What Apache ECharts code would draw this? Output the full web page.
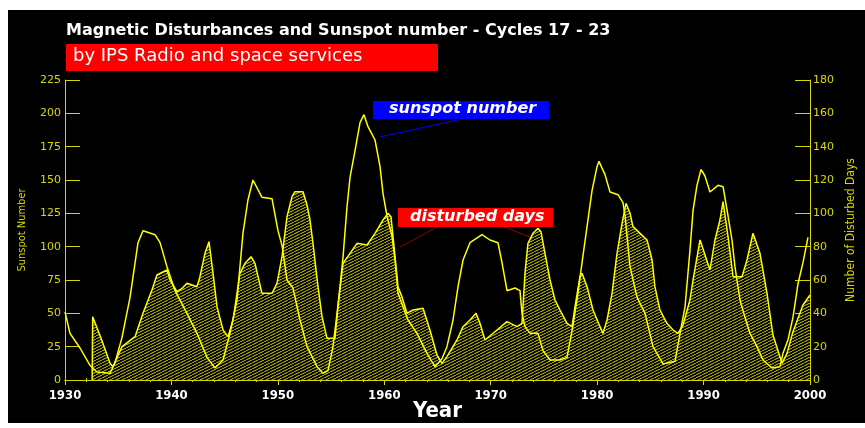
<!DOCTYPE html>
<html>
<head>
<meta charset="utf-8">
<script src="https://cdn.jsdelivr.net/npm/echarts@6/dist/echarts.min.js"></script>
<style>
  html, body { margin: 0; padding: 0; background: #fff; }
  #main { width: 865px; height: 428px; }
</style>
</head>
<body>
<div id="main"></div>
<script>
// sunspot number (left axis)
const ssnYears = [1930.0, 1930.47, 1931.41, 1932.35, 1933.0, 1934.23, 1934.7, 1935.36, 1936.11, 1936.86,
  1937.33, 1938.46, 1938.93, 1939.58, 1940.34, 1941.46, 1942.4, 1943.34, 1944.09, 1944.85,
  1945.5, 1946.16, 1946.72, 1947.19, 1947.66, 1948.51, 1949.45, 1950.01, 1950.39, 1950.86,
  1951.42, 1952.08, 1952.74, 1953.68, 1954.24, 1954.71, 1955.18, 1955.56, 1955.84, 1956.12,
  1956.5, 1956.78, 1957.25, 1957.72, 1958.09, 1958.47, 1959.13, 1959.6, 1959.88, 1960.25,
  1960.72, 1961.01, 1961.29, 1961.76, 1962.23, 1963.07, 1964.01, 1964.76, 1965.42, 1965.89,
  1966.46, 1966.93, 1967.4, 1968.05, 1969.18, 1969.93, 1970.68, 1971.06, 1971.53, 1972.28,
  1972.75, 1972.94, 1973.22, 1973.69, 1974.44, 1974.91, 1975.57, 1976.51, 1977.17, 1977.64,
  1978.11, 1978.58, 1979.05, 1979.52, 1979.99, 1980.17, 1980.74, 1981.21, 1981.96, 1982.43,
  1982.62, 1983.09, 1983.75, 1984.5, 1985.25, 1986.19, 1987.32, 1987.79, 1988.26, 1988.72,
  1989.01, 1989.38, 1989.76, 1990.13, 1990.6, 1991.36, 1991.83, 1992.3, 1992.67, 1992.95,
  1993.42, 1993.89, 1994.36, 1995.02, 1995.58, 1996.43, 1997.18, 1997.46, 1997.93, 1998.4,
  1998.87, 1999.34, 1999.81]
const ssnValues = [51, 35, 24, 11, 6, 5, 13, 32, 62, 103,
  112, 109, 103, 85, 67, 50, 35, 17, 9, 15,
  35, 60, 110, 135, 150, 137, 136, 112, 101, 75,
  69, 45, 25, 10, 5, 7, 25, 50, 70, 92,
  130, 152, 172, 193, 199, 190, 180, 160, 140, 123,
  108, 90, 65, 55, 45, 35, 20, 10, 16, 25,
  45, 70, 90, 103, 109, 105, 103, 88, 67, 69,
  67, 50, 40, 35, 35, 22, 15, 15, 17, 37,
  60, 88, 115, 142, 160, 164, 154, 141, 139, 133,
  123, 85, 62, 50, 25, 12, 14, 35, 55, 97,
  127, 146, 158, 153, 141, 146, 145, 123, 105, 85,
  60, 47, 35, 25, 15, 9, 10, 20, 30, 47,
  72, 88, 107]

// number of disturbed days (right axis)
const ddYears = [1932.55, 1932.6, 1933.45, 1934.23, 1934.51, 1935.36, 1936.58, 1937.33, 1938.17, 1938.64,
  1939.58, 1939.87, 1940.52, 1941.0, 1941.46, 1942.4, 1942.68, 1943.15, 1943.53, 1943.91,
  1944.28, 1944.85, 1945.32, 1945.79, 1946.16, 1946.44, 1946.91, 1947.48, 1947.85, 1948.51,
  1949.45, 1949.92, 1950.39, 1950.86, 1951.33, 1951.61, 1952.36, 1952.74, 1953.02, 1953.3,
  1953.77, 1954.15, 1954.62, 1955.37, 1955.65, 1956.12, 1956.78, 1957.44, 1958.38, 1959.13,
  1959.88, 1960.35, 1960.63, 1961.01, 1961.29, 1961.66, 1962.13, 1962.7, 1963.64, 1964.29,
  1964.95, 1965.42, 1965.89, 1966.83, 1967.4, 1968.05, 1968.62, 1968.99, 1969.46, 1970.59,
  1971.53, 1972.47, 1972.94, 1973.22, 1973.5, 1973.97, 1974.44, 1974.72, 1975.1, 1975.57,
  1976.04, 1976.51, 1977.17, 1977.64, 1977.92, 1978.39, 1978.58, 1979.05, 1979.61, 1980.27,
  1980.55, 1980.93, 1981.4, 1981.87, 1982.34, 1982.71, 1983.09, 1983.37, 1984.03, 1984.69,
  1985.16, 1985.43, 1985.9, 1986.56, 1987.13, 1987.6, 1988.07, 1988.72, 1989.01, 1989.67,
  1990.6, 1991.07, 1991.54, 1991.83, 1992.3, 1992.77, 1993.61, 1994.08, 1994.64, 1995.3,
  1995.96, 1996.52, 1997.37, 1997.84, 1998.4, 1999.34, 2000.0]
const ddValues = [0, 38, 24, 10, 8, 20, 26, 40, 54, 63,
  66, 60, 53, 55, 58, 56, 62, 76, 83, 64,
  44, 30, 26, 36, 52, 64, 70, 74, 70, 52,
  52, 58, 74, 98, 110, 113, 113, 105, 96, 82,
  56, 38, 25, 25, 44, 70, 76, 82, 81, 88,
  96, 100, 98, 74, 56, 50, 40, 42, 43, 30,
  15, 10, 14, 24, 32, 36, 40, 34, 24, 30,
  35, 32, 34, 64, 82, 88, 91, 89, 76, 60,
  48, 42, 34, 32, 44, 62, 64, 56, 42, 32,
  28, 36, 52, 76, 94, 106, 100, 92, 88, 84,
  72, 56, 42, 34, 30, 28, 33, 48, 60, 84,
  66, 84, 96, 107, 86, 62, 62, 72, 88, 76,
  52, 27, 10, 16, 29, 45, 51]

const yellow = '#ffff00'
const axisYellow = '#d8d800'
const narrow = '"DejaVu Sans Condensed", "Liberation Sans Narrow", "DejaVu Sans", sans-serif'

// diagonal hatch for the disturbed days area
const hatch = document.createElement('canvas')
hatch.width = 6
hatch.height = 3
const hctx = hatch.getContext('2d')
hctx.fillStyle = '#000'
hctx.fillRect(0, 0, 6, 3)
hctx.strokeStyle = '#d0d000'
hctx.lineWidth = 1
hctx.beginPath()
hctx.moveTo(-1, 3.5)
hctx.lineTo(7, -0.5)
hctx.stroke()

const zip = (xs, ys) => xs.map((x, i) => [x, ys[i]])

let myChart = echarts.init(document.getElementById('main'))
myChart.setOption({
  backgroundColor: '#fff',
  animation: false,
  grid: { left: 65, right: 55, top: 80, bottom: 48, containLabel: false, outerBoundsMode: 'none' },
  xAxis: [
    {
      type: 'value', min: 1930, max: 2000, interval: 10, position: 'bottom',
      name: 'Year', nameLocation: 'middle', nameGap: 20, nameMoveOverlap: false,
      nameTextStyle: { color: '#fff', fontFamily: narrow, fontWeight: 'bold', fontSize: 22, verticalAlign: 'top' },
      axisLine: { lineStyle: { color: axisYellow, width: 1 } },
      axisTick: { inside: true, length: 5, lineStyle: { color: axisYellow } },
      minorTick: { show: true, splitNumber: 5, length: 2, lineStyle: { color: axisYellow } },
      axisLabel: { color: '#fff', fontFamily: narrow, fontWeight: 'bold', fontSize: 13, margin: 9,
        formatter: v => String(v) },
      splitLine: { show: false }
    },
    {
      type: 'value', min: 1930, max: 2000, interval: 10, position: 'top',
      axisLine: { lineStyle: { color: axisYellow, width: 1 } },
      axisTick: { inside: true, length: 5, lineStyle: { color: axisYellow } },
      minorTick: { show: true, splitNumber: 5, length: 2, lineStyle: { color: axisYellow } },
      axisLabel: { show: false },
      splitLine: { show: false }
    }
  ],
  yAxis: [
    {
      type: 'value', min: 0, max: 225, interval: 25, position: 'left',
      name: 'Sunspot Number', nameLocation: 'middle', nameGap: 37, nameRotate: 90,
      nameTextStyle: { color: axisYellow, fontFamily: narrow, fontSize: 11 },
      axisLine: { show: true, lineStyle: { color: axisYellow, width: 1 } },
      axisTick: { show: true, inside: true, length: 15, lineStyle: { color: axisYellow } },
      axisLabel: { color: axisYellow, fontFamily: '"DejaVu Sans", sans-serif', fontSize: 11, margin: 4 },
      splitLine: { show: false }
    },
    {
      type: 'value', min: 0, max: 180, interval: 20, position: 'right',
      name: 'Number of Disturbed Days', nameLocation: 'middle', nameGap: 26, nameRotate: 90,
      nameTextStyle: { color: axisYellow, fontFamily: narrow, fontSize: 12 },
      axisLine: { show: true, lineStyle: { color: axisYellow, width: 1 } },
      axisTick: { show: true, inside: true, length: 15, lineStyle: { color: axisYellow } },
      axisLabel: { color: axisYellow, fontFamily: '"DejaVu Sans", sans-serif', fontSize: 11, margin: 3 },
      splitLine: { show: false }
    }
  ],
  series: [
    {
      name: 'disturbed days', type: 'line', yAxisIndex: 1, xAxisIndex: 0,
      data: zip(ddYears, ddValues), showSymbol: false, z: 2,
      lineStyle: { color: yellow, width: 1.5 },
      areaStyle: { color: { image: hatch, repeat: 'repeat' }, opacity: 1 }
    },
    {
      name: 'sunspot number', type: 'line', yAxisIndex: 0, xAxisIndex: 0,
      data: zip(ssnYears, ssnValues), showSymbol: false, z: 3,
      lineStyle: { color: yellow, width: 1.5 }
    }
  ],
  graphic: [
    { type: 'rect', z: -10, silent: true, shape: { x: 8, y: 10, width: 857, height: 413 }, style: { fill: '#000' } },
    { type: 'text', z: 100, left: 66, top: 23,
      style: { text: 'Magnetic Disturbances and Sunspot number - Cycles 17 - 23', fill: '#fff',
        font: 'bold 16px "DejaVu Sans", sans-serif' } },
    { type: 'rect', z: 100, shape: { x: 66, y: 44, width: 372, height: 27 }, style: { fill: '#ff0000' } },
    { type: 'text', z: 101, left: 73, top: 47,
      style: { text: 'by IPS Radio and space services', fill: '#fff', font: '18px "DejaVu Sans", sans-serif' } },
    // callout: sunspot number
    { type: 'line', z: 100, shape: { x1: 380, y1: 137, x2: 457, y2: 120 }, style: { stroke: '#0000ff', lineWidth: 1 } },
    { type: 'rect', z: 100, shape: { x: 373, y: 101, width: 176, height: 18 }, style: { fill: '#0000ff' } },
    { type: 'text', z: 101, left: 389, top: 101,
      style: { text: 'sunspot number', fill: '#fff', font: 'italic bold 16px "DejaVu Sans", sans-serif' } },
    // callout: disturbed days
    { type: 'line', z: 100, shape: { x1: 437, y1: 227, x2: 400, y2: 247 }, style: { stroke: '#8b0000', lineWidth: 1 } },
    { type: 'line', z: 100, shape: { x1: 504, y1: 227, x2: 530, y2: 237 }, style: { stroke: '#8b0000', lineWidth: 1 } },
    { type: 'rect', z: 100, shape: { x: 398, y: 208, width: 155, height: 19 }, style: { fill: '#ff0000' } },
    { type: 'text', z: 101, left: 410, top: 209,
      style: { text: 'disturbed days', fill: '#fff', font: 'italic bold 16px "DejaVu Sans", sans-serif' } }
  ]
})
</script>
</body>
</html>
